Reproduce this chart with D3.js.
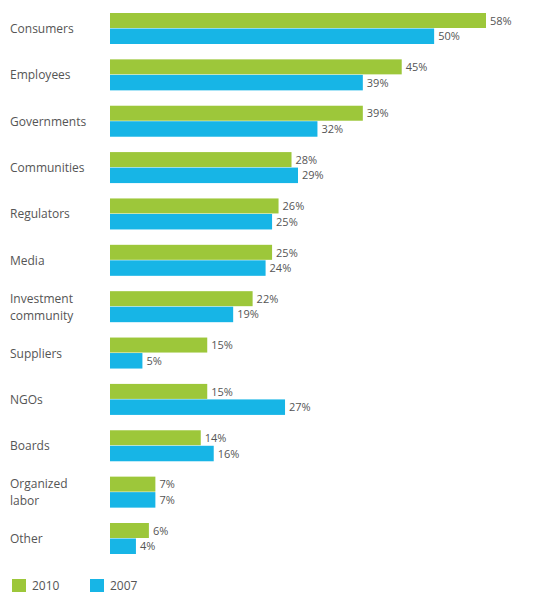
<!DOCTYPE html>
<html>
<head>
<meta charset="utf-8">
<script src="https://cdn.jsdelivr.net/npm/d3@7"></script>
<style>
  body { margin: 0; background: #fff; }
  svg { display: block; font-family: "Open Sans", sans-serif; }
</style>
</head>
<body>
<svg id="chart" width="533" height="595"></svg>
<script>
// Stakeholder groups, top to bottom
const categories = [
  ["Consumers"], ["Employees"], ["Governments"], ["Communities"], ["Regulators"],
  ["Media"], ["Investment", "community"], ["Suppliers"], ["NGOs"], ["Boards"],
  ["Organized", "labor"], ["Other"]
];
const values2010 = [58, 45, 39, 28, 26, 25, 22, 15, 15, 14, 7, 6];
const values2007 = [50, 39, 32, 29, 25, 24, 19, 5, 27, 16, 7, 4];
const seriesNames = ["2010", "2007"];
const seriesColors = ["#9dc73a", "#17b5e6"];

const svg = d3.select("#chart");
const x0 = 110;
const x = d3.scaleLinear().domain([0, 58]).range([x0, 486]);
// top edge of each category's pair of bars
const y = d3.scaleLinear().domain([0, categories.length - 1]).range([13, 523]);
const barH = 15.5;

const groups = svg.selectAll("g.cat")
  .data(categories.map((c, i) => ({ label: c, v: [values2010[i], values2007[i]], i })))
  .join("g")
  .attr("class", "cat")
  .attr("transform", d => `translate(0,${y(d.i)})`);

// Category labels
groups.append("text")
  .attr("x", 10)
  .attr("y", d => d.label.length === 1 ? barH + 4.5 : barH - 4)
  .attr("fill", "#555")
  .style("font-size", "12px")
  .selectAll("tspan")
  .data(d => d.label)
  .join("tspan")
  .attr("x", 10)
  .attr("dy", (t, j) => j === 0 ? 0 : 17)
  .text(t => t);

// Bars and value labels
[0, 1].forEach(s => {
  groups.append("rect")
    .attr("x", x0)
    .attr("y", s * barH)
    .attr("width", d => x(d.v[s]) - x0)
    .attr("height", barH - (s === 0 ? 0.5 : 0))
    .attr("fill", seriesColors[s]);
  groups.append("text")
    .attr("x", d => x(d.v[s]) + 4)
    .attr("y", s * barH + barH / 2 + 4)
    .attr("fill", "#555")
    .style("font-size", "11px")
    .text(d => d.v[s] + "%");
});

// Legend
const legend = svg.append("g").attr("transform", "translate(0,579)");
seriesNames.forEach((name, s) => {
  const lx = 12 + s * 78;
  legend.append("rect").attr("x", lx).attr("y", 0).attr("width", 14).attr("height", 13)
    .attr("fill", seriesColors[s]);
  legend.append("text").attr("x", lx + 20).attr("y", 11).attr("fill", "#555")
    .style("font-size", "12px").text(name);
});
</script>
</body>
</html>
